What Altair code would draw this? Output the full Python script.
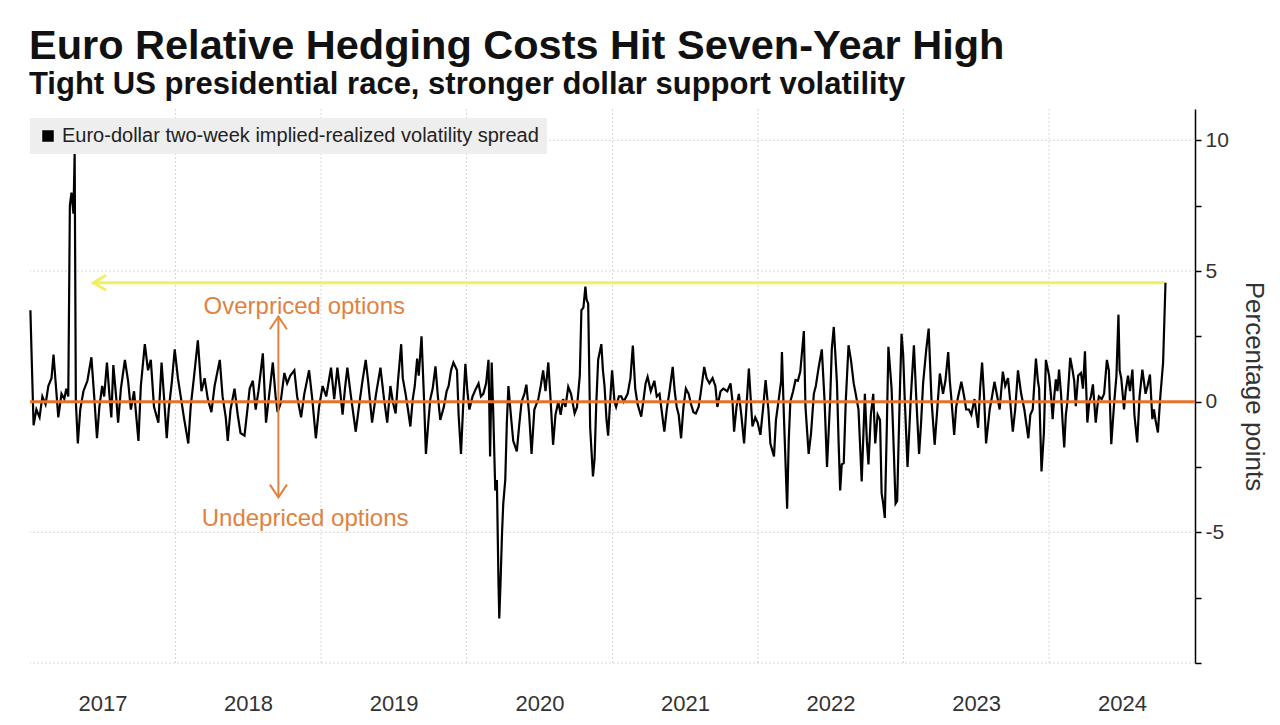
import altair as alt
import pandas as pd

series_name = "Euro-dollar two-week implied-realized volatility spread"

days_since_2017 = [
    1, 4, 9, 16, 24, 31, 39, 46, 54, 59,
    64, 71, 79, 86, 91, 96, 100, 104, 109, 112,
    115, 120, 126, 134, 144, 154, 161, 168, 174, 181,
    186, 193, 199, 204, 209, 216, 221, 228, 238, 246,
    253, 261, 272, 278, 288, 296, 303, 311, 322, 330,
    336, 343, 348, 356, 363, 371, 378, 386, 397, 403,
    411, 421, 430, 438, 446, 455, 463, 476, 483, 491,
    496, 503, 513, 521, 528, 538, 546, 551, 559, 566,
    573, 584, 592, 601, 609, 616, 621, 628, 638, 645,
    653, 663, 670, 680, 688, 700, 708, 717, 725, 734,
    743, 755, 763, 771, 778, 784, 790, 796, 805, 817,
    825, 833, 842, 848, 858, 868, 879, 888, 896, 904,
    910, 917, 923, 931, 935, 942, 948, 954, 960, 965,
    971, 975, 982, 988, 993, 999, 1004, 1010, 1017, 1023,
    1029, 1038, 1045, 1050, 1056, 1062, 1071, 1075, 1081, 1086,
    1092, 1097, 1102, 1110, 1117, 1125, 1131, 1137, 1144, 1150,
    1154, 1158, 1162, 1167, 1171, 1175, 1177, 1180, 1184, 1187,
    1192, 1196, 1200, 1206, 1212, 1221, 1227, 1233, 1240, 1245,
    1252, 1258, 1265, 1275, 1281, 1287, 1293, 1300, 1306, 1312,
    1318, 1325, 1331, 1337, 1343, 1350, 1357, 1366, 1372, 1379,
    1383, 1388, 1393, 1396, 1400, 1405, 1412, 1416, 1420, 1425,
    1433, 1437, 1441, 1446, 1450, 1455, 1460, 1466, 1470, 1477,
    1483, 1489, 1499, 1506, 1512, 1518, 1524, 1533, 1539, 1544,
    1549, 1557, 1566, 1572, 1579, 1584, 1591, 1597, 1604, 1612,
    1617, 1622, 1627, 1633, 1639, 1645, 1652, 1658, 1664, 1670,
    1677, 1682, 1691, 1697, 1704, 1712, 1719, 1724, 1732, 1739,
    1749, 1757, 1762, 1766, 1772, 1778, 1784, 1791, 1797, 1803,
    1812, 1819, 1825, 1832, 1839, 1845, 1852, 1857, 1866, 1871,
    1878, 1884, 1886, 1891, 1899, 1903, 1907, 1914, 1920, 1926,
    1932, 1941, 1945, 1953, 1959, 1966, 1971, 1978, 1986, 1993,
    1999, 2007, 2011, 2016, 2020, 2024, 2028, 2032, 2036, 2041,
    2046, 2053, 2059, 2066, 2071, 2078, 2086, 2094, 2099, 2103,
    2109, 2115, 2120, 2126, 2132, 2136, 2140, 2144, 2149, 2153,
    2157, 2161, 2165, 2171, 2175, 2178, 2182, 2186, 2190, 2194,
    2201, 2209, 2217, 2223, 2230, 2235, 2240, 2248, 2254, 2261,
    2269, 2276, 2282, 2290, 2296, 2303, 2307, 2311, 2318, 2323,
    2328, 2336, 2343, 2348, 2355, 2361, 2369, 2378, 2383, 2388,
    2393, 2398, 2407, 2413, 2419, 2426, 2432, 2440, 2446, 2453,
    2458, 2465, 2471, 2478, 2486, 2494, 2504, 2509, 2515, 2523,
    2528, 2531, 2537, 2543, 2548, 2556, 2561, 2565, 2569, 2573,
    2577, 2581, 2586, 2590, 2594, 2598, 2602, 2609, 2615, 2619,
    2623, 2629, 2636, 2641, 2646, 2652, 2657, 2661, 2666, 2673,
    2677, 2681, 2688, 2694, 2701, 2706, 2712, 2719, 2725, 2730,
    2733, 2737, 2744, 2748, 2754, 2759, 2765, 2770, 2777, 2783,
    2790, 2798, 2803, 2809, 2815, 2819, 2823, 2829, 2835, 2842,
    2848,
]

# implied minus realized volatility spread, percentage points
spread_pp = [
    3.5, 1.8, -0.9, -0.3, -0.6, 0.2, -0.1, 0.6, 0.9, 1.8,
    0.8, -0.6, 0.3, 0.1, 0.5, 0.2, 7.5, 8.0, 7.2, 9.5,
    0.0, -1.6, -0.3, 0.4, 0.8, 1.7, 0.2, -1.4, -0.2, 0.6,
    0.2, 1.5, 0.3, -0.6, 1.4, 0.2, -0.8, 0.5, 1.6, 0.8,
    -0.3, 0.4, -1.5, 0.6, 2.2, 1.2, 1.6, -0.2, -0.8, 1.5,
    0.2, -1.4, -0.3, 0.8, 2.0, 0.9, 0.2, -0.6, -1.6, -0.2,
    0.9, 2.35, 0.4, 0.9, 0.1, -0.4, 0.6, 1.6, 0.2, -0.6,
    -1.5, -0.3, 0.5, -0.5, -1.2, -1.3, -0.2, 0.5, 0.8, -0.3,
    0.4, 1.85, -0.8, 0.4, 1.5, 0.2, -0.4, -0.1, 1.1, 0.7,
    1.0, 1.2, 0.2, -0.6, 0.3, 1.2, 0.1, -1.4, -0.2, 0.6,
    0.2, 1.3, 0.1, 1.3, 0.4, -0.5, 0.5, 1.3, 0.2, -1.15,
    -0.2, 0.7, 1.6, 0.8, -0.8, 0.3, 1.3, 0.1, -0.8, 0.6,
    0.0, -0.45, 0.8, 2.2, 0.9, 0.3, -0.3, -0.95, 0.1, 0.6,
    1.65, 1.0, 2.5, 0.2, -2.0, -0.8, 0.1, 0.5, 1.35, 0.2,
    -0.7, -0.2, 0.4, 0.6, 1.2, 1.5, 1.2, -0.5, -2.0, -0.3,
    1.45, 0.4, -0.3, 0.2, 0.45, 0.7, 0.2, 0.3, 0.7, 1.6,
    -2.1, 1.5, -0.5, -3.4, -3.0, -6.9, -8.3, -7.0, -5.0, -3.9,
    -3.0, -0.8, 0.6, -0.5, -1.5, -1.9, -0.9, 0.0, 0.3, 0.65,
    -0.5, -2.0, -0.3, 0.1, 0.6, 1.2, 0.4, 1.5, 0.0, -1.65,
    -0.5, 0.0, -0.5, 0.1, -0.2, 0.57, 0.3, -0.45, -0.2, 1.0,
    3.5, 3.6, 4.4, 3.9, 3.75, -1.0, -2.86, -2.2, -0.2, 1.6,
    2.2, 1.2, 0.6, -0.7, -1.3, 0.0, 1.2, 0.0, -0.2, 0.2,
    0.2, 0.0, 0.3, 0.9, 2.15, 0.5, -0.1, -0.57, 0.1, 0.7,
    0.95, 0.4, 0.8, 0.2, 0.3, -0.3, -1.15, -0.3, 0.4, 1.33,
    0.4, -0.2, -0.5, -1.4, -0.2, 0.5, 0.3, -0.1, -0.4, -0.45,
    -0.2, 0.3, 1.33, 0.9, 0.7, 0.9, 0.6, -0.2, 0.4, 0.5,
    0.4, 0.7, 0.0, -1.15, -0.2, 0.3, -0.5, -1.6, -0.2, 1.27,
    -0.95, -0.6, -0.8, -1.27, -0.2, 0.83, -0.3, -1.6, -2.1, -0.7,
    0.1, 0.8, 1.9, -0.6, -4.1, -1.5, 0.0, 0.4, 0.83, 0.8,
    1.15, 2.7, -0.2, -2.0, -1.2, 0.3, 0.6, 1.3, 2.0, 0.0,
    -2.5, 0.1, 2.0, 2.86, 1.8, 0.7, -1.5, -3.4, -2.4, -2.35,
    0.0, 2.16, 1.6, 0.7, 0.3, -0.3, -3.05, 0.3, -1.5, -2.4,
    -0.5, 0.3, -1.6, -0.5, -0.7, -3.5, -3.9, -4.45, -1.0, 2.1,
    1.3, 0.5, -1.2, -3.9, -3.8, -1.9, 0.5, 2.6, 1.8, 0.1,
    -2.5, 0.1, 2.16, 0.1, -2.0, -0.8, 0.7, 2.0, 2.8, 0.1,
    -1.65, -0.2, 1.08, 0.3, 0.8, 1.9, 0.8, 0.1, -1.27, -0.2,
    0.2, 0.76, 0.2, -0.3, -0.3, -0.5, 0.1, -1.0, 0.5, 1.5,
    0.2, -1.6, -0.3, 0.2, 0.76, 0.2, -0.3, 1.15, 0.6, 0.9,
    0.1, -1.15, -0.3, 1.2, 0.3, -0.3, -1.4, -0.5, -0.3, 1.65,
    0.8, 0.5, -2.67, -1.2, 1.6, 1.0, 0.2, -0.67, 0.2, 0.85,
    0.4, 1.23, 0.3, -0.8, -1.75, -0.5, 0.0, 1.68, 1.2, 0.8,
    -0.17, 1.0, 1.1, 0.5, 1.93, -0.8, 0.0, 0.2, 0.66, -0.8,
    -0.2, 0.2, 0.1, 0.3, 1.6, 1.2, -1.63, -0.1, 1.0, 3.33,
    1.2, 0.9, -0.3, 0.4, 1.0, 0.4, 1.23, -0.5, -1.56, 0.2,
    1.23, 0.3, 0.6, 1.04, -0.67, -0.3, -0.7, -1.18, 0.2, 1.5,
    4.55,
]

label_years = [2017, 2018, 2019, 2020, 2021, 2022, 2023, 2024]
grid_years = [2018, 2019, 2020, 2021, 2022, 2023, 2024]
grid_values = [10, 5, -5, -10]
tick_values = [-10, -7.5, -5, -2.5, 0, 2.5, 5, 7.5, 10]

high_level = 4.55
high_arrow_days = [159, 2848]
band_arrow_day = 623
band_arrow_top = 3.26
band_arrow_bottom = -3.66
note_texts = ["Overpriced options", "Undepriced options"]
note_days = [688, 690]
note_values = [3.63, -4.5]

FONT = "Liberation Sans"
ORANGE = "#e0823f"
ZERO_ORANGE = "#e8702a"
YELLOW = "#f0f060"
GRID = "#d6d6d6"

origin = pd.Timestamp("2017-01-01")


def to_date(d):
    return origin + pd.Timedelta(days=d)


df = pd.DataFrame({
    "date": [to_date(d) for d in days_since_2017],
    "spread": spread_pp,
    "series": series_name,
})
df_vgrid = pd.DataFrame({"date": [pd.Timestamp(f"{y}-01-01") for y in grid_years]})
df_hgrid = pd.DataFrame({"spread": grid_values})
df_zero = pd.DataFrame({"spread": [0]})
df_high = pd.DataFrame({
    "date": [to_date(high_arrow_days[0])],
    "date_end": [to_date(high_arrow_days[1])],
    "spread": [high_level],
})
df_band = pd.DataFrame({
    "date": [to_date(band_arrow_day)],
    "spread": [band_arrow_top],
    "spread_end": [band_arrow_bottom],
})
df_band_top = pd.DataFrame({"date": [to_date(band_arrow_day)], "spread": [band_arrow_top]})
df_band_bot = pd.DataFrame({"date": [to_date(band_arrow_day)], "spread": [band_arrow_bottom]})
df_notes = pd.DataFrame({
    "date": [to_date(d) for d in note_days],
    "spread": note_values,
    "note": note_texts,
})

x_scale = alt.Scale(domain=[alt.DateTime(year=2017, month=1, date=1),
                            alt.DateTime(year=2025, month=1, date=1)])
y_scale = alt.Scale(domain=[-10, 11.2], nice=False, zero=False)

x_axis = alt.Axis(
    values=[alt.DateTime(year=y, month=7, date=2) for y in label_years],
    format="%Y", grid=False, ticks=False, domain=False, title=None,
    labelFont=FONT, labelFontSize=22, labelColor="#333333", labelPadding=30,
    labelOverlap=False, labelFlush=False,
)
y_axis = alt.Axis(
    orient="right", values=tick_values,
    labelExpr="(datum.value % 5 === 0 && datum.value !== -10) ? ('' + datum.value) : ''",
    grid=False, domainColor="#000000", domainWidth=1.5,
    tickColor="#000000", tickSize=6, tickWidth=1.5,
    labelFont=FONT, labelFontSize=21, labelColor="#333333", labelPadding=4,
    title="Percentage points", titleFont=FONT, titleFontSize=26,
    titleFontWeight="normal", titleColor="#333333", titlePadding=12,
)

X = alt.X("date:T", scale=x_scale, axis=x_axis)
Y = alt.Y("spread:Q", scale=y_scale, axis=y_axis)

vgrid = alt.Chart(df_vgrid).mark_rule(color=GRID, strokeDash=[2, 2], strokeWidth=1).encode(x=X)
hgrid = alt.Chart(df_hgrid).mark_rule(color=GRID, strokeDash=[2, 2], strokeWidth=1).encode(y=Y)

high_line = alt.Chart(df_high).mark_rule(color=YELLOW, strokeWidth=3).encode(
    x=X, x2="date_end:T", y=Y
)
high_head = alt.Chart(df_high).mark_point(
    shape="M1.7,-1L0,0L1.7,1", size=225, filled=False, strokeWidth=3,
    color=YELLOW, opacity=1
).encode(x=X, y=Y)

line = alt.Chart(df).mark_line(strokeWidth=2.2).encode(
    x=X,
    y=Y,
    color=alt.Color(
        "series:N",
        scale=alt.Scale(range=["#000000"]),
        legend=alt.Legend(
            title=None, orient="none", legendX=0, legendY=9,
            fillColor="#eeeeee", padding=8,
            symbolType="square", symbolSize=100,
            symbolFillColor="#000000", symbolStrokeColor="#000000",
            labelFont=FONT, labelFontSize=20, labelColor="#222222",
            labelLimit=800,
        ),
    ),
)

zero_line = alt.Chart(df_zero).mark_rule(color=ZERO_ORANGE, strokeWidth=3).encode(y=Y)

band_line = alt.Chart(df_band).mark_rule(color=ORANGE, strokeWidth=2).encode(
    x=X, y=Y, y2="spread_end:Q"
)
band_top = alt.Chart(df_band_top).mark_point(
    shape="M-1,1.5L0,0L1,1.5", size=289, filled=False, strokeWidth=2,
    color=ORANGE, opacity=1
).encode(x=X, y=Y)
band_bot = alt.Chart(df_band_bot).mark_point(
    shape="M-1,-1.5L0,0L1,-1.5", size=289, filled=False, strokeWidth=2,
    color=ORANGE, opacity=1
).encode(x=X, y=Y)

notes = alt.Chart(df_notes).mark_text(
    font=FONT, fontSize=24, color=ORANGE, align="center", baseline="middle"
).encode(x=X, y=Y, text="note:N")

chart = alt.layer(
    vgrid, hgrid, high_line, high_head, line, zero_line,
    band_line, band_top, band_bot, notes
).properties(
    width=1165,
    height=554,
    padding={"left": 17, "top": 18, "right": 0, "bottom": 0},
    title=alt.TitleParams(
        text="Euro Relative Hedging Costs Hit Seven-Year High",
        subtitle="Tight US presidential race, stronger dollar support volatility",
        anchor="start", dx=3,
        font=FONT, fontSize=41.5, fontWeight="bold", color="#111111",
        subtitleFont=FONT, subtitleFontSize=31, subtitleFontWeight="bold",
        subtitleColor="#111111", subtitlePadding=2, offset=9,
    ),
).configure_view(stroke=None)

chart.save("out.html", embed_options={"renderer": "svg", "actions": False})
